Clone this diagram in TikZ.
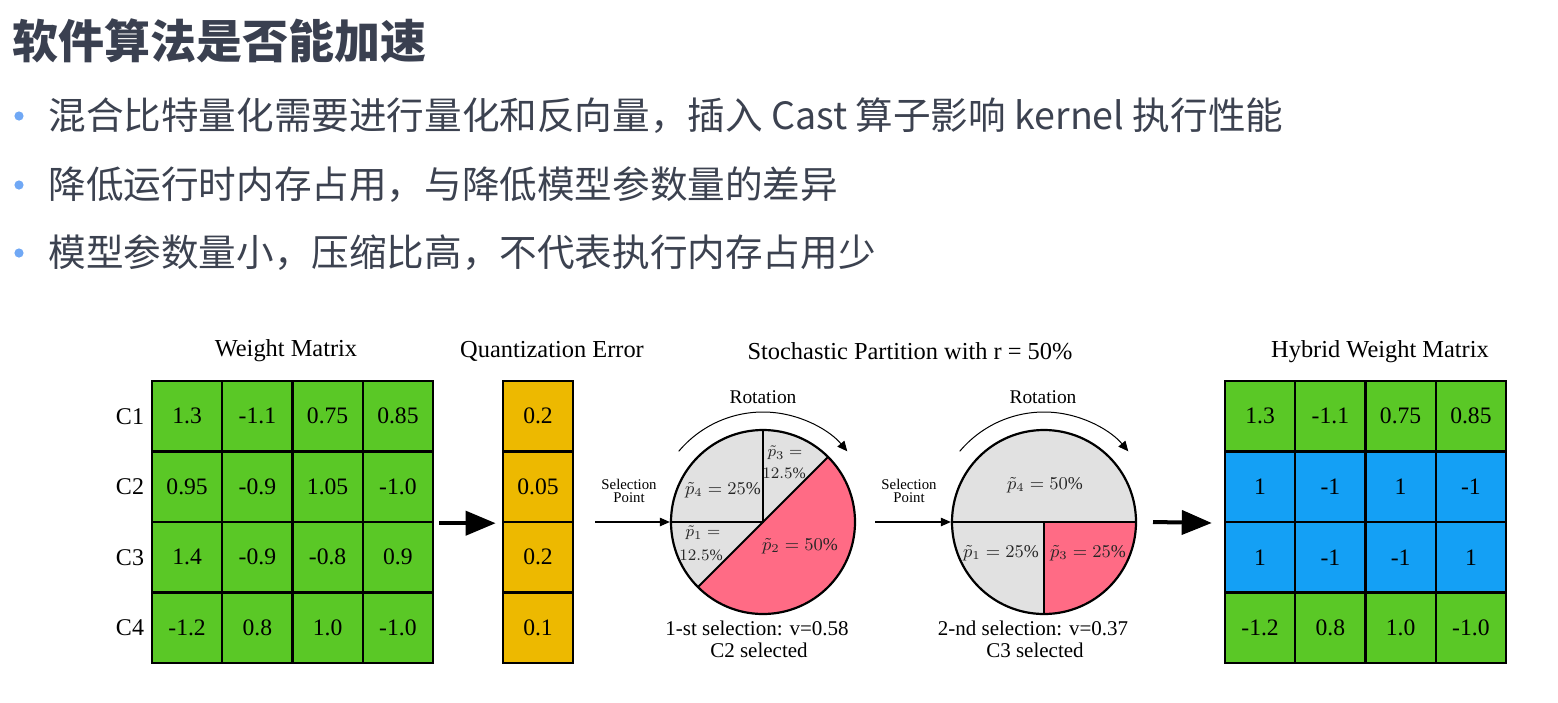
\documentclass[tikz,border=0pt]{standalone}
\usepackage{fontspec}
\setmainfont{Liberation Serif}
\newfontfamily\cjk{Noto Sans CJK SC}
\usetikzlibrary{arrows.meta}

\definecolor{wgreen}{RGB}{90,200,38}
\definecolor{qorange}{RGB}{237,185,0}
\definecolor{hblue}{RGB}{20,160,245}
\definecolor{piepink}{RGB}{255,107,133}
\definecolor{piegray}{RGB}{225,225,225}
\definecolor{titlecol}{RGB}{58,64,80}
\definecolor{textcol}{RGB}{60,66,80}
\definecolor{dotblue}{RGB}{112,168,245}

\tikzset{
  cell/.style={draw=black, line width=1.2pt, minimum width=35.125pt,
    minimum height=35.25pt, inner sep=0pt, font=\fontsize{11.8}{13}\selectfont},
  hdr/.style={inner sep=0pt, font=\fontsize{12.2}{14}\selectfont},
  rowlab/.style={inner sep=0pt, font=\fontsize{12}{14}\selectfont},
  pieedge/.style={circle, draw=black, line width=1.1pt, minimum size=92pt, inner sep=0pt},
  pieline/.style={line width=1pt},
  plab/.style={inner sep=0pt, text=black!85, font=\fontsize{9}{10}\selectfont},
  plabs/.style={inner sep=0pt, text=black!85, font=\fontsize{7.9}{9}\selectfont},
  sellab/.style={inner sep=0pt, align=center, font=\fontsize{7.4}{6.7}\selectfont},
  rotlab/.style={inner sep=0pt, font=\fontsize{9.7}{11}\selectfont},
  caplab/.style={inner sep=0pt, font=\fontsize{10.5}{12}\selectfont},
  bigarrow/.style={line width=2pt, -{Triangle[length=15pt,width=12pt]}},
  thinarrow/.style={line width=0.6pt, -{Triangle[length=5pt,width=4.2pt]}},
  rotarrow/.style={line width=0.5pt, -{Triangle[length=5pt,width=4.5pt]}},
  bulletdot/.style={circle, fill=dotblue, minimum size=4.6pt, inner sep=0pt},
  bullettext/.style={anchor=west, inner sep=0pt, text=textcol, font=\cjk\fontsize{18.8}{22}\selectfont},
}

\begin{document}
\begin{tikzpicture}[x=0.5pt, y=-0.5pt]
\useasboundingbox (0,0) rectangle (1558,702);
\fill[white] (0,0) rectangle (1558,702);

% heading and bullet list
\node[anchor=west, inner sep=0pt, text=titlecol, font=\cjk\bfseries\fontsize{23}{27}\selectfont]
  (title) at (12,41) {软件算法是否能加速};
\node[bulletdot] (d1) at (19,116) {};
\node[bulletdot] (d2) at (19,185) {};
\node[bulletdot] (d3) at (19,253) {};
\node[bullettext] (t1) at (48,116) {混合比特量化需要进行量化和反向量，插入 Cast 算子影响 kernel 执行性能};
\node[bullettext] (t2) at (48,185) {降低运行时内存占用，与降低模型参数量的差异};
\node[bullettext] (t3) at (48,253) {模型参数量小，压缩比高，不代表执行内存占用少};

% column headings
\node[hdr] (hw) at (286,351) {Weight Matrix};
\node[hdr] (hq) at (552,351) {Quantization Error};
\node[hdr] (hs) at (910,351) {Stochastic Partition with r = 50\%};
\node[hdr] (hh) at (1380,352) {Hybrid Weight Matrix};

% weight matrix
\foreach \r/\a/\b/\c/\d in {1/1.3/-1.1/0.75/0.85, 2/0.95/-0.9/1.05/-1.0, 3/1.4/-0.9/-0.8/0.9, 4/-1.2/0.8/1.0/-1.0}{
  \node[rowlab] (c\r) at (130,{381+70.5*\r-35.25}) {C\r};
  \node[cell, fill=wgreen] (w-\r-1) at (187.1,{381+70.5*\r-35.25}) {\a};
  \node[cell, fill=wgreen] (w-\r-2) at (257.4,{381+70.5*\r-35.25}) {\b};
  \node[cell, fill=wgreen] (w-\r-3) at (327.6,{381+70.5*\r-35.25}) {\c};
  \node[cell, fill=wgreen] (w-\r-4) at (397.9,{381+70.5*\r-35.25}) {\d};
}

% quantization error column
\foreach \r/\v in {1/0.2, 2/0.05, 3/0.2, 4/0.1}{
  \node[cell, fill=qorange] (q-\r) at (538,{381+70.5*\r-35.25}) {\v};
}

\draw[bigarrow, shorten <=2.5pt, shorten >=3pt] (w-2-4.south east) -- (q-2.south west);

% first partition wheel
\begin{scope}[shift={(763,522)}, y=0.5pt]
  \fill[piegray] (0,0) -- (45:92) arc[start angle=45, end angle=225, radius=92] -- cycle;
  \fill[piepink] (0,0) -- (225:92) arc[start angle=225, end angle=405, radius=92] -- cycle;
  \draw[pieline] (180:92) -- (0,0) -- (90:92);
  \draw[pieline] (45:92) -- (225:92);
  \draw[rotarrow] (140:110) arc[start angle=140, end angle=40, radius=110];
\end{scope}
\node[pieedge] (pie1) at (763,522) {};
\node[plab] (l14) at (723,490) {$\tilde p_4 = 25\%$};
\node[plabs] (l13a) at (785,453) {$\tilde p_3 =$};
\node[plabs] (l13b) at (784,473) {$12.5\%$};
\node[plabs] (l11a) at (703,533) {$\tilde p_1 =$};
\node[plabs] (l11b) at (701,555) {$12.5\%$};
\node[plab] (l12) at (800,546) {$\tilde p_2 = 50\%$};
\node[rotlab] (rot1) at (763,397) {Rotation};
\node[sellab] (sp1) at (629,491) {Selection\\Point};
\coordinate (s1) at (595,522);
\draw[thinarrow] (s1) -- (pie1.west);
\node[caplab] (cap1a) at (757,628) {1-st selection: v=0.58};
\node[caplab] (cap1b) at (759,650) {C2 selected};

% second partition wheel
\begin{scope}[shift={(1044,522)}, y=0.5pt]
  \fill[piegray] (0,0) -- (0:92) arc[start angle=0, end angle=270, radius=92] -- cycle;
  \fill[piepink] (0,0) -- (270:92) arc[start angle=270, end angle=360, radius=92] -- cycle;
  \draw[pieline] (180:92) -- (0:92);
  \draw[pieline] (0,0) -- (270:92);
  \draw[rotarrow] (140:110) arc[start angle=140, end angle=40, radius=110];
\end{scope}
\node[pieedge] (pie2) at (1044,522) {};
\node[plab] (l24) at (1045,485) {$\tilde p_4 = 50\%$};
\node[plab] (l21) at (1001,553) {$\tilde p_1 = 25\%$};
\node[plab] (l23) at (1088,553) {$\tilde p_3 = 25\%$};
\node[rotlab] (rot2) at (1043,397) {Rotation};
\node[sellab] (sp2) at (909,491) {Selection\\Point};
\coordinate (s2) at (875,522);
\draw[thinarrow] (s2) -- (pie2.west);
\node[caplab] (cap2a) at (1033,628) {2-nd selection: v=0.37};
\node[caplab] (cap2b) at (1035,650) {C3 selected};

% hybrid weight matrix
\foreach \r/\f/\a/\b/\c/\d in {1/wgreen/1.3/-1.1/0.75/0.85, 2/hblue/1/-1/1/-1, 3/hblue/1/-1/-1/1, 4/wgreen/-1.2/0.8/1.0/-1.0}{
  \node[cell, fill=\f] (h-\r-1) at (1260.1,{381+70.5*\r-35.25}) {\a};
  \node[cell, fill=\f] (h-\r-2) at (1330.4,{381+70.5*\r-35.25}) {\b};
  \node[cell, fill=\f] (h-\r-3) at (1400.6,{381+70.5*\r-35.25}) {\c};
  \node[cell, fill=\f] (h-\r-4) at (1470.9,{381+70.5*\r-35.25}) {\d};
}

\coordinate (a2) at (1153,522);
\draw[bigarrow, shorten >=6pt] (a2) -- (h-2-1.south west);
\end{tikzpicture}
\end{document}
